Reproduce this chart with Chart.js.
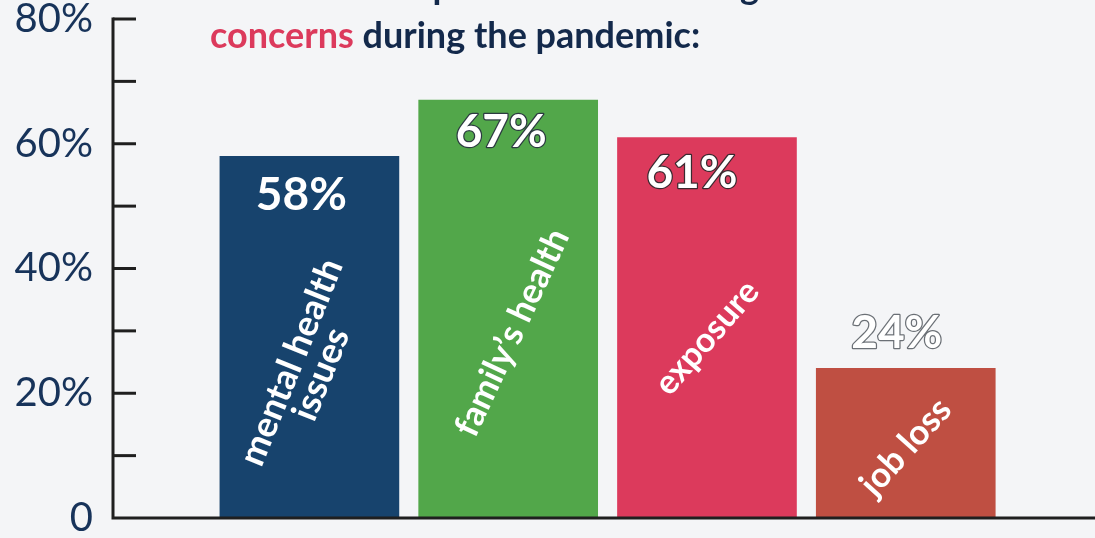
<!DOCTYPE html>
<html>
<head>
<meta charset="utf-8">
<script src="https://cdn.jsdelivr.net/npm/chart.js@4.4.1/dist/chart.umd.min.js"></script>
<style>
  html, body { margin: 0; padding: 0; background: #f4f5f7; overflow: hidden; }
  #wrap { position: relative; width: 1095px; height: 538px; }
  canvas { display: block; }
</style>
</head>
<body>
<div id="wrap"><canvas id="c" width="1095" height="538"></canvas></div>
<script>
// ---- data ----
const categories = ['mental health\nissues', 'family\u2019s health', 'exposure', 'job loss'];
const values = [58, 67, 61, 24];
const valueLabels = ['58%', '67%', '61%', '24%'];
const barColors = ['#17436d', '#52a74a', '#dc3a5c', '#bf4f42'];
const yTicks = [0, 10, 20, 30, 40, 50, 60, 70, 80];
const yTickLabels = ['0', '', '20%', '', '40%', '', '60%', '', '80%'];
const titleLine1 = 'All athletes reported the following';
const titleHighlight = 'concerns';
const titleRest = ' during the pandemic:';

const NAVY = '#13294b';
const AXIS = '#1f1f1f';

const decor = {
  id: 'decor',
  afterDraw(chart) {
    const ctx = chart.ctx;
    const ys = chart.scales.y;
    const area = chart.chartArea;
    ctx.save();
    ctx.textBaseline = 'alphabetic';
    ctx.textAlign = 'left';
    ctx.font = 'bold 36px Lato';
    ctx.fillStyle = NAVY;
    ctx.fillText(titleLine1, 212, -1);
    ctx.fillStyle = '#dc3a5c';
    ctx.fillText(titleHighlight, 210, 48);
    const w = ctx.measureText(titleHighlight).width;
    ctx.fillStyle = NAVY;
    ctx.fillText(titleRest, 210 + w, 48);

    ctx.strokeStyle = AXIS;
    ctx.lineWidth = 3;
    ctx.beginPath();
    ctx.moveTo(area.left, ys.getPixelForValue(80) - 1.5);
    ctx.lineTo(area.left, ys.getPixelForValue(0));
    ctx.lineTo(chart.width, ys.getPixelForValue(0));
    ctx.stroke();
    yTicks.forEach(v => {
      if (v === 0) return;
      const py = ys.getPixelForValue(v);
      ctx.beginPath();
      ctx.moveTo(area.left, py);
      ctx.lineTo(area.left + 23, py);
      ctx.stroke();
    });
    ctx.restore();
  },
  afterDatasetsDraw(chart, args, opts) {
    const ctx = chart.ctx;
    const ys = chart.scales.y;
    const meta = chart.getDatasetMeta(0);
    ctx.save();
    meta.data.forEach((bar, i) => {
      const vo = opts.valueOffsets[i];
      ctx.font = 'bold 46px Lato';
      ctx.textAlign = 'center';
      ctx.textBaseline = 'middle';
      const vx = bar.x + vo[0], vy = bar.y + vo[1];
      if (opts.valueStroke[i]) {
        ctx.lineWidth = 2.5;
        ctx.strokeStyle = opts.valueStroke[i];
        ctx.lineJoin = 'round';
        ctx.strokeText(valueLabels[i], vx, vy);
      }
      ctx.fillStyle = '#ffffff';
      ctx.fillText(valueLabels[i], vx, vy);

      const co = opts.catPos[i];
      ctx.save();
      ctx.translate(bar.x + co[0], ys.getPixelForValue(co[1]));
      ctx.rotate(co[2] * Math.PI / 180);
      ctx.font = 'bold ' + co[3] + 'px Lato';
      ctx.fillStyle = '#ffffff';
      const lines = categories[i].split('\n');
      const lh = 32;
      lines.forEach((ln, k) => {
        ctx.fillText(ln, 0, (k - (lines.length - 1) / 2) * lh);
      });
      ctx.restore();
    });
    ctx.restore();
  }
};

new Chart(document.getElementById('c'), {
  type: 'bar',
  data: {
    datasets: [{
      data: values.map((v, i) => ({ x: i + 1, y: v })),
      backgroundColor: barColors,
      borderWidth: 0,
      barThickness: 179
    }]
  },
  options: {
    responsive: false,
    animation: false,
    events: [],
    layout: { padding: { top: 19, bottom: 20, left: 0, right: 0 } },
    plugins: {
      legend: { display: false },
      tooltip: { enabled: false },
      decor: {
        valueOffsets: [[-8, 39], [-7, 32], [-15, 36], [-9, -35]],
        valueStroke: [null, '#2b3a40', '#3a2a30', '#6b7076'],
        catPos: [[-3, 24.0, -68, 36], [4, 29.7, -65, 35], [0, 28.9, -49, 34], [0, 11.4, -48, 35]]
      }
    },
    scales: {
      x: {
        type: 'linear',
        offset: false,
        min: 0.012,
        max: 4.952,
        display: false
      },
      y: {
        min: 0,
        max: 80,
        afterFit(s) { s.width = 113; s.paddingTop = 0; s.paddingBottom = 0; },
        afterBuildTicks(s) { s.ticks = yTicks.map(v => ({ value: v })); },
        grid: { display: false, drawTicks: false },
        border: { display: false },
        ticks: {
          padding: 20,
          color: '#17335a',
          font: { family: 'Lato', size: 40, lineHeight: 1 },
          callback(v) { return yTickLabels[yTicks.indexOf(v)]; }
        }
      }
    }
  },
  plugins: [decor]
});
</script>
</body>
</html>
